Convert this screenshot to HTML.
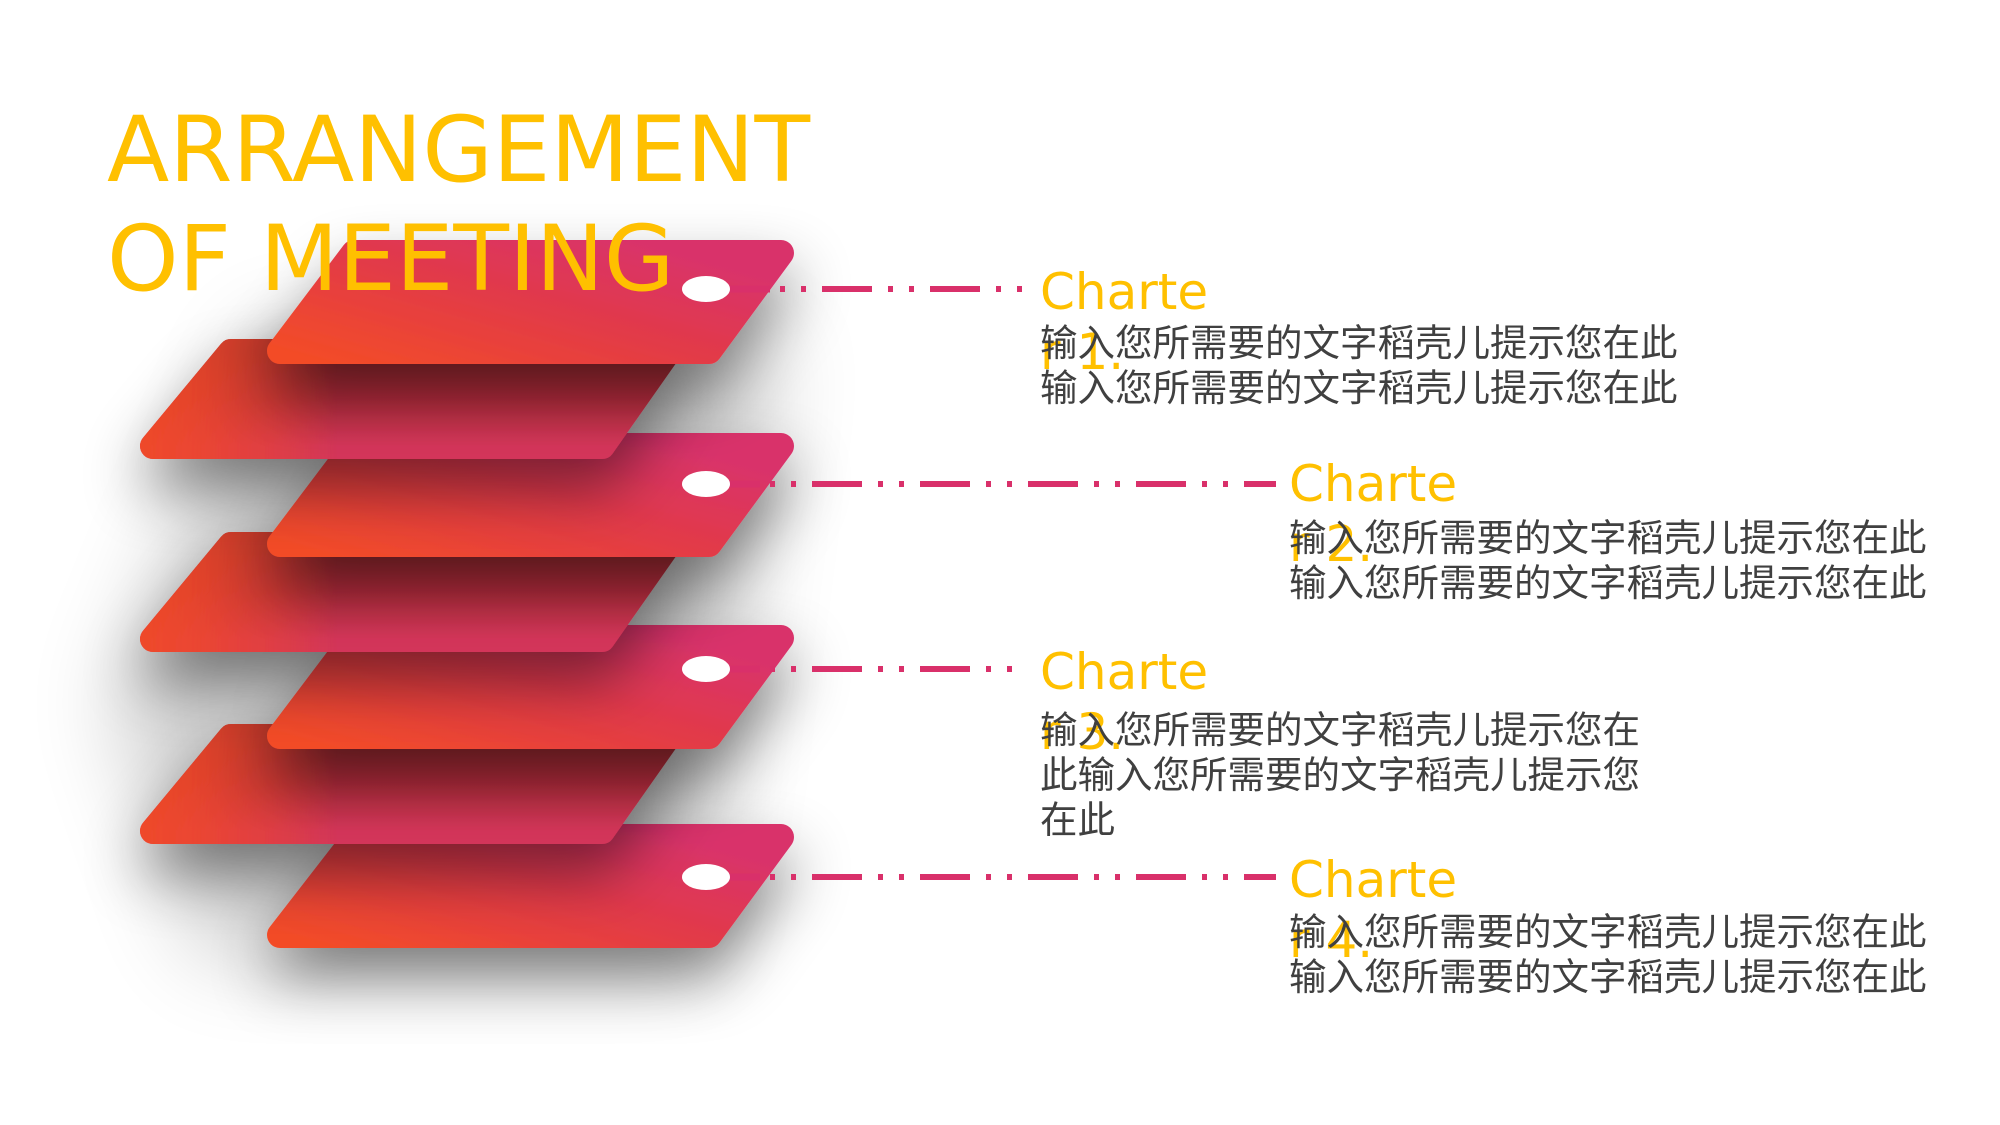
<!DOCTYPE html>
<html><head><meta charset="utf-8"><style>
html,body{margin:0;padding:0;background:#fff;}
body{width:2000px;height:1125px;overflow:hidden;position:relative;}
svg{position:absolute;left:0;top:0;}
.t{font-family:"DejaVu Sans","Liberation Sans","Noto Sans CJK SC",sans-serif;}
</style></head><body>
<svg width="2000" height="1125" viewBox="0 0 2000 1125">
<defs>
<linearGradient id="gl" x1="0" y1="1" x2="1" y2="0.3">
<stop offset="0" stop-color="#f34c27"/><stop offset="0.55" stop-color="#e23a48"/><stop offset="1" stop-color="#d9336a"/>
</linearGradient>
<linearGradient id="gdv" x1="0" y1="0" x2="0" y2="1">
<stop offset="0" stop-color="#96282e"/><stop offset="0.5" stop-color="#b22c3c"/><stop offset="1" stop-color="#d4365a"/>
</linearGradient>
<linearGradient id="mh" x1="0" y1="0" x2="1" y2="0">
<stop offset="0" stop-color="#fff"/><stop offset="0.12" stop-color="#fff" stop-opacity="0.8"/><stop offset="0.35" stop-color="#000"/><stop offset="1" stop-color="#000"/>
</linearGradient>
<mask id="mk" maskUnits="userSpaceOnUse" x="0" y="0" width="2000" height="1125">
<rect x="120" y="0" width="620" height="1125" fill="url(#mh)"/>
</mask>
<filter id="sh" filterUnits="userSpaceOnUse" x="0" y="0" width="2000" height="1125">
<feDropShadow dx="0" dy="30" stdDeviation="30" flood-color="#000" flood-opacity="0.45"/>
</filter>
<filter id="bb" filterUnits="userSpaceOnUse" x="0" y="0" width="2000" height="1125">
<feGaussianBlur stdDeviation="45"/>
</filter>
</defs>

<polygon points="260,330 780,330 700,960 200,960 110,700" fill="#000" opacity="0.18" filter="url(#bb)"/>

<g stroke-linejoin="round" stroke-width="26">
<g filter="url(#sh)"><polygon points="356,837 781,837 709,935 280,935" fill="url(#gl)" stroke="url(#gl)"/></g>
<g filter="url(#sh)"><polygon points="231,737 668,737 602,831 153,831" fill="url(#gdv)" stroke="url(#gdv)"/>
<polygon mask="url(#mk)" points="231,737 668,737 602,831 153,831" fill="#f04a28" stroke="#f04a28"/></g>
<g filter="url(#sh)"><polygon points="354,638 781,638 709,736 280,736" fill="url(#gl)" stroke="url(#gl)"/></g>
<g filter="url(#sh)"><polygon points="231,545 668,545 602,639 153,639" fill="url(#gdv)" stroke="url(#gdv)"/>
<polygon mask="url(#mk)" points="231,545 668,545 602,639 153,639" fill="#f04a28" stroke="#f04a28"/></g>
<g filter="url(#sh)"><polygon points="354,446 781,446 709,544 280,544" fill="url(#gl)" stroke="url(#gl)"/></g>
<g filter="url(#sh)"><polygon points="231,352 668,352 602,446 153,446" fill="url(#gdv)" stroke="url(#gdv)"/>
<polygon mask="url(#mk)" points="231,352 668,352 602,446 153,446" fill="#f04a28" stroke="#f04a28"/></g>
<g filter="url(#sh)"><polygon points="354,253 781,253 709,351 280,351" fill="url(#gl)" stroke="url(#gl)"/></g>
</g>

<g stroke="#d9306a" stroke-width="6" fill="none" stroke-dasharray="5 16 5 16 50 16">
<line x1="780" y1="289" x2="1022" y2="289"/>
<line x1="770" y1="484" x2="1276" y2="484"/>
<line x1="770" y1="669" x2="1022" y2="669"/>
<line x1="770" y1="877" x2="1276" y2="877"/>
</g>
<g stroke="#d9306a" stroke-width="7">
<line x1="725" y1="289" x2="770" y2="289"/>
<line x1="725" y1="484" x2="760" y2="484"/>
<line x1="725" y1="669" x2="760" y2="669"/>
<line x1="725" y1="877" x2="760" y2="877"/>
</g>
<g fill="#fff">
<ellipse cx="706" cy="289" rx="24" ry="13"/>
<ellipse cx="706" cy="484" rx="24" ry="13"/>
<ellipse cx="706" cy="669" rx="24" ry="13"/>
<ellipse cx="706" cy="877" rx="24" ry="13"/>
</g>

<g class="t" fill="#ffc000" font-size="91">
<text x="107" y="181">ARRANGEMENT</text>
<text x="107" y="290">OF MEETING</text>
</g>

<g class="t" fill="#ffc000" font-size="50">
<text x="1040" y="309">Charte</text><text x="1040" y="369">r 1.</text>
<text x="1289" y="501">Charte</text><text x="1289" y="561">r 2.</text>
<text x="1040" y="689">Charte</text><text x="1040" y="749">r 3.</text>
<text x="1289" y="897">Charte</text><text x="1289" y="957">r 4.</text>
</g>
<g class="t" fill="#404040" font-size="37.5">
<text x="1040" y="356">输入您所需要的文字稻壳儿提示您在此</text>
<text x="1040" y="401">输入您所需要的文字稻壳儿提示您在此</text>
<text x="1289" y="551">输入您所需要的文字稻壳儿提示您在此</text>
<text x="1289" y="596">输入您所需要的文字稻壳儿提示您在此</text>
<text x="1040" y="743">输入您所需要的文字稻壳儿提示您在</text>
<text x="1040" y="788">此输入您所需要的文字稻壳儿提示您</text>
<text x="1040" y="833">在此</text>
<text x="1289" y="945">输入您所需要的文字稻壳儿提示您在此</text>
<text x="1289" y="990">输入您所需要的文字稻壳儿提示您在此</text>
</g>
</svg>
</body></html>
